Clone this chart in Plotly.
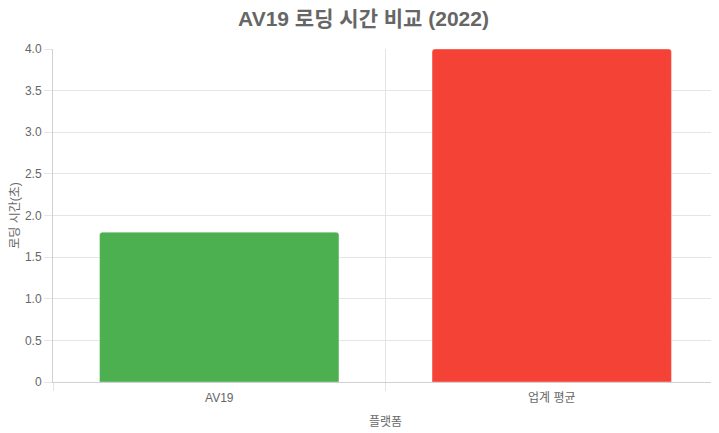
import plotly.graph_objects as go

platforms = ["AV19", "업계 평균"]
load_times = [1.8, 4.0]
bar_colors = ["#4CAF50", "#F44336"]
y_tick_vals = [0, 0.5, 1.0, 1.5, 2.0, 2.5, 3.0, 3.5, 4.0]
y_tick_text = ["0", "0.5", "1.0", "1.5", "2.0", "2.5", "3.0", "3.5", "4.0"]

font_family = "Liberation Sans, Arial, Noto Sans CJK KR, sans-serif"

# page body has an 8px margin, so the figure is sized 8px smaller
fig = go.Figure(go.Bar(
    x=platforms,
    y=load_times,
    width=0.72,
    marker=dict(color=bar_colors, line=dict(width=1, color="rgba(255,255,255,0.35)")),
    hoverinfo="x+y",
))

fig.update_layout(
    width=711, height=425,
    margin=dict(l=45, r=1, t=41, b=51),
    paper_bgcolor="white", plot_bgcolor="white",
    barcornerradius=3,
    showlegend=False,
    font=dict(family=font_family, size=12, color="#666"),
    title=dict(text="<b>AV19 로딩 시간 비교 (2022)</b>", x=0.5, xanchor="center",
               xref="container", y=0.974, yanchor="middle",
               font=dict(size=21, color="#666", family=font_family)),
)

fig.update_xaxes(
    type="category", range=[-0.5, 1.5], automargin=False,
    tickson="boundaries", ticks="outside", ticklen=8, tickcolor="#e5e5e5",
    ticklabelstandoff=5,
    showgrid=True, gridcolor="#e5e5e5", gridwidth=1,
    showline=True, linecolor="#d0d0d0", linewidth=1,
    tickfont=dict(size=12, color="#666"),
    title=dict(text="플랫폼", font=dict(size=12, color="#666"), standoff=13),
    zeroline=False,
)

fig.update_yaxes(
    range=[0, 4.0], tickvals=y_tick_vals, ticktext=y_tick_text, automargin=False,
    ticks="outside", ticklen=8, tickcolor="#e5e5e5",
    showgrid=True, gridcolor="#e5e5e5", gridwidth=1,
    showline=True, linecolor="#d0d0d0", linewidth=1,
    zeroline=False,
    tickfont=dict(size=12, color="#666"),
    title=dict(text="로딩 시간(초)", font=dict(size=12, color="#666"), standoff=7),
)

fig.write_html("out.html")
